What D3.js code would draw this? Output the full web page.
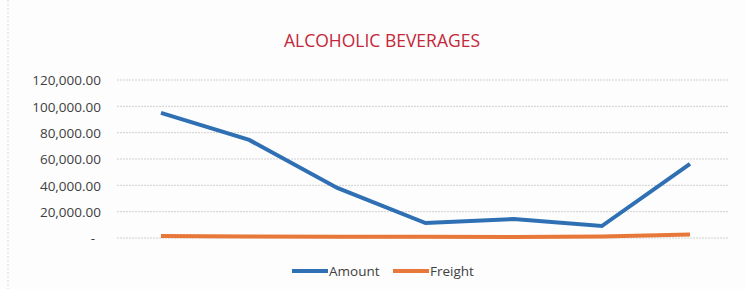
<!DOCTYPE html>
<html>
<head>
<meta charset="utf-8">
<script src="https://cdnjs.cloudflare.com/ajax/libs/d3/7.8.5/d3.min.js"></script>
<style>
  body { margin: 0; background: #fff; }
  text { font-family: "Open Sans", "Noto Sans", sans-serif; }
</style>
</head>
<body>
<div id="chart"></div>
<script>
var categories = ["1", "2", "3", "4", "5", "6", "7"];
var amount = [95000, 74500, 38000, 11400, 14400, 9100, 56300];
var freight = [1500, 1100, 900, 1000, 700, 1200, 2700];
var yTicks = [0, 20000, 40000, 60000, 80000, 100000, 120000];

var width = 745, height = 289;
var margin = { top: 80, right: 17, bottom: 51, left: 117 };

var svg = d3.select("#chart").append("svg")
  .attr("width", width)
  .attr("height", height);

svg.append("rect")
  .attr("x", 0).attr("y", 0)
  .attr("width", width).attr("height", height)
  .attr("fill", "#fdfdfd");

// faint left edge of chart area
svg.append("line")
  .attr("x1", 8).attr("x2", 8).attr("y1", 0).attr("y2", height)
  .attr("stroke", "#d8d8d8")
  .attr("stroke-dasharray", "2,2");

var x = d3.scalePoint()
  .domain(categories)
  .range([margin.left + 44, width - margin.right - 38]);

var y = d3.scaleLinear()
  .domain([0, 120000])
  .range([height - margin.bottom, margin.top]);

// gridlines
svg.append("g")
  .selectAll("line")
  .data(yTicks)
  .enter()
  .append("line")
  .attr("x1", margin.left)
  .attr("x2", width - margin.right)
  .attr("y1", function (d) { return y(d); })
  .attr("y2", function (d) { return y(d); })
  .attr("stroke", "#cfcfcf")
  .attr("stroke-width", 1)
  .attr("stroke-dasharray", "2,1");

var yAxis = d3.axisLeft(y)
  .tickValues(yTicks)
  .tickSize(0)
  .tickPadding(0)
  .tickFormat(function (d) { return d === 0 ? "-" : d3.format(",.2f")(d); });

var gy = svg.append("g")
  .attr("transform", "translate(101,0)")
  .call(yAxis);
gy.select(".domain").remove();
gy.selectAll("text")
  .attr("font-size", 13.5)
  .attr("fill", "#404040")
  .attr("dy", "0.35em");
gy.selectAll(".tick")
  .filter(function (d) { return d === 0; })
  .select("text")
  .attr("dx", -6);

var line = d3.line()
  .x(function (d, i) { return x(categories[i]); })
  .y(function (d) { return y(d); });

svg.append("path")
  .datum(freight)
  .attr("fill", "none")
  .attr("stroke", "#e8773a")
  .attr("stroke-width", 4)
  .attr("d", line);

svg.append("path")
  .datum(amount)
  .attr("fill", "none")
  .attr("stroke", "#2f6fb4")
  .attr("stroke-width", 4)
  .attr("d", line);

svg.append("text")
  .attr("x", 382)
  .attr("y", 47)
  .attr("text-anchor", "middle")
  .attr("font-size", 17.5)
  .attr("fill", "#c4273a")
  .text("ALCOHOLIC BEVERAGES");

// legend
var legend = [
  { name: "Amount", color: "#2f6fb4", x: 292 },
  { name: "Freight", color: "#e8773a", x: 393 }
];
var lg = svg.append("g")
  .selectAll("g")
  .data(legend)
  .enter()
  .append("g")
  .attr("transform", function (d) { return "translate(" + d.x + ",271)"; });
lg.append("line")
  .attr("x1", 0).attr("x2", 36)
  .attr("stroke", function (d) { return d.color; })
  .attr("stroke-width", 4);
lg.append("text")
  .attr("x", 37)
  .attr("dy", "0.35em")
  .attr("font-size", 13.5)
  .attr("fill", "#404040")
  .text(function (d) { return d.name; });
</script>
</body>
</html>
